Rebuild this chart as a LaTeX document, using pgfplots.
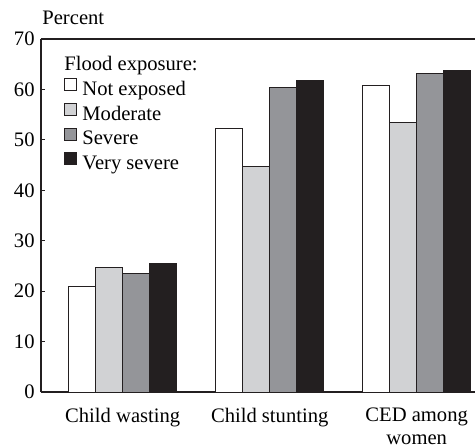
\documentclass[border=0pt]{standalone}
\usepackage{fontspec}
\setmainfont{Liberation Serif}
\usepackage{pgfplots}
\pgfplotsset{compat=1.18}
\definecolor{lgray}{RGB}{209,210,212}
\definecolor{mgray}{RGB}{148,149,153}
\definecolor{dblack}{RGB}{35,31,32}
\pgfplotsset{sqlegend/.style={legend image code/.code={\draw[##1, line width=0.5pt, draw=dblack] (0pt,-0.3pt) rectangle (6pt,5.7pt);}}}
\begin{document}
\fontsize{10.3}{12}\selectfont
\begin{tikzpicture}[font=\fontsize{10.3}{12}\selectfont]
\begin{axis}[name=ax, at={(0,0)}, anchor=south west,
 scale only axis, width=217pt, height=176.5pt,
 xmin=-0.556, xmax=2.397, ymin=0, ymax=70,
 clip=false,
 ybar=0pt, bar width=13.5pt,
 axis x line=box, axis y line*=left,
 axis line style={line width=0.6pt, draw=dblack},
 xtick={0,1,2},
 xticklabels={Child wasting, Child stunting, CED among\\women},
 xticklabel style={align=center, anchor=north, inner sep=0pt, yshift=-7.9pt,
   font=\fontsize{10.3}{11.2}\selectfont},
 xtick style={draw=none},
 ytick={0,10,...,70}, tick align=inside, major tick length=1.8pt,
 ytick style={line width=0.6pt, draw=dblack},
 yticklabel style={inner sep=0pt, xshift=-3pt, font=\fontsize{10.3}{12}\selectfont},
 /pgf/number format/assume math mode=true,
 legend cell align=left,
 legend style={draw=none, fill=none, at={(axis description cs:0,1)}, anchor=north west,
   xshift=11.5pt, yshift=-19.45pt, inner sep=0pt, row sep=1.8pt,
   font=\fontsize{10.3}{12}\selectfont,
   nodes={inner sep=0pt, text height=7.2pt, text depth=2pt},
   /tikz/every odd column/.append style={column sep=2.5pt}},
 every axis plot/.append style={draw=dblack, line width=0.5pt},
]
\addplot[fill=white, sqlegend] coordinates {(0,21.0) (1,52.3) (2,60.7)};
\addlegendentry{Not exposed}
\addplot[fill=lgray, sqlegend] coordinates {(0,24.6) (1,44.8) (2,53.5)};
\addlegendentry{Moderate}
\addplot[fill=mgray, sqlegend] coordinates {(0,23.5) (1,60.3) (2,63.2)};
\addlegendentry{Severe}
\addplot[fill=dblack, sqlegend] coordinates {(0,25.5) (1,61.7) (2,63.7)};
\addlegendentry{Very severe}
\node[anchor=base west, inner sep=0pt] at (axis description cs:0,1) [xshift=11.5pt, yshift=-15.5pt] {Flood exposure:};
\node[anchor=base west, inner sep=0pt] at (axis description cs:0,1) [xshift=0.5pt, yshift=7.5pt] {Percent};
\end{axis}
\pgfresetboundingbox
\path[use as bounding box] (-20.5pt,-27pt) rectangle (217pt,196pt);
\end{tikzpicture}
\end{document}
